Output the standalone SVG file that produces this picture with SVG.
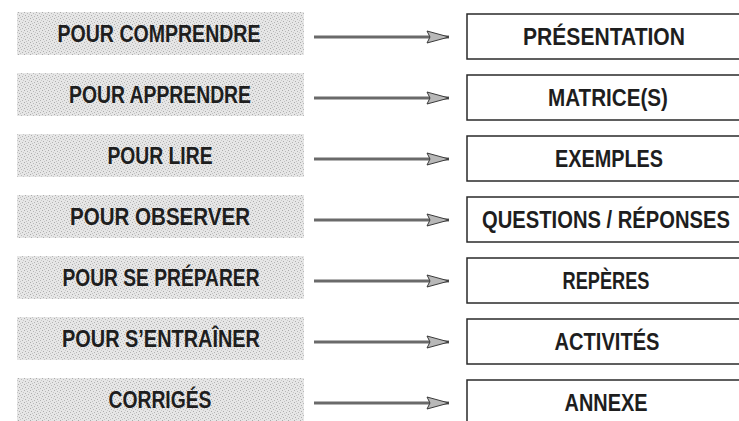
<svg xmlns="http://www.w3.org/2000/svg" width="739" height="421" viewBox="0 0 739 421">
<defs>
<pattern id="stip" width="6" height="6" patternUnits="userSpaceOnUse">
<rect width="6" height="6" fill="#e6e6e6"/>
<rect x="0" y="0" width="1" height="1" fill="#ababab"/>
<rect x="3" y="1" width="1" height="1" fill="#b8b8b8"/>
<rect x="1" y="3" width="1" height="1" fill="#adadad"/>
<rect x="4" y="4" width="1" height="1" fill="#b4b4b4"/>
<rect x="5" y="2" width="1" height="1" fill="#c8c8c8"/>
<rect x="2" y="5" width="1" height="1" fill="#c4c4c4"/>
</pattern>
<marker id="ah" markerWidth="24" markerHeight="14" refX="23" refY="7" orient="auto" markerUnits="userSpaceOnUse">
<polygon points="1,1 23,7 1,13 4,7" fill="#b8b8b8" stroke="#3a3a3a" stroke-width="1"/>
</marker>
</defs>
<style>
.g{fill:url(#stip)}
.b{fill:#fff;stroke:#2a2a2a;stroke-width:1.5}
.t{font-family:"Liberation Sans Narrow","Liberation Sans",Arial,sans-serif;font-weight:bold;font-size:23px;fill:#1e1e1e;text-anchor:middle}
.a{stroke:#6a6a6a;stroke-width:3;fill:none}
</style>

<g id="l1"><rect class="g" x="17" y="12" width="287" height="43"/><text class="t" x="159" y="42" textLength="203" lengthAdjust="spacingAndGlyphs">POUR COMPRENDRE</text></g>
<g id="l2"><rect class="g" x="17" y="73" width="287" height="43"/><text class="t" x="160" y="103" textLength="182" lengthAdjust="spacingAndGlyphs">POUR APPRENDRE</text></g>
<g id="l3"><rect class="g" x="17" y="134" width="287" height="43"/><text class="t" x="160" y="164" textLength="105" lengthAdjust="spacingAndGlyphs">POUR LIRE</text></g>
<g id="l4"><rect class="g" x="17" y="195" width="287" height="43"/><text class="t" x="160" y="225" textLength="180" lengthAdjust="spacingAndGlyphs">POUR OBSERVER</text></g>
<g id="l5"><rect class="g" x="17" y="256" width="287" height="43"/><text class="t" x="161" y="286" textLength="197" lengthAdjust="spacingAndGlyphs">POUR SE PRÉPARER</text></g>
<g id="l6"><rect class="g" x="17" y="317" width="287" height="43"/><text class="t" x="161" y="347" textLength="198" lengthAdjust="spacingAndGlyphs">POUR S’ENTRAÎNER</text></g>
<g id="l7"><rect class="g" x="17" y="378" width="287" height="43"/><text class="t" x="160" y="408" textLength="103" lengthAdjust="spacingAndGlyphs">CORRIGÉS</text></g>

<g id="connectors">
<line class="a" x1="314" y1="37" x2="449" y2="37" marker-end="url(#ah)"/>
<line class="a" x1="314" y1="98" x2="449" y2="98" marker-end="url(#ah)"/>
<line class="a" x1="314" y1="159" x2="449" y2="159" marker-end="url(#ah)"/>
<line class="a" x1="314" y1="220" x2="449" y2="220" marker-end="url(#ah)"/>
<line class="a" x1="314" y1="281" x2="449" y2="281" marker-end="url(#ah)"/>
<line class="a" x1="314" y1="342" x2="449" y2="342" marker-end="url(#ah)"/>
<line class="a" x1="314" y1="403" x2="449" y2="403" marker-end="url(#ah)"/>
</g>

<g id="r1"><rect class="b" x="467" y="14" width="280" height="45"/><text class="t" x="604" y="45" textLength="162" lengthAdjust="spacingAndGlyphs">PRÉSENTATION</text></g>
<g id="r2"><rect class="b" x="467" y="75" width="280" height="45"/><text class="t" x="608" y="106" textLength="120" lengthAdjust="spacingAndGlyphs">MATRICE(S)</text></g>
<g id="r3"><rect class="b" x="467" y="136" width="280" height="45"/><text class="t" x="609" y="167" textLength="108" lengthAdjust="spacingAndGlyphs">EXEMPLES</text></g>
<g id="r4"><rect class="b" x="467" y="197" width="280" height="45"/><text class="t" transform="translate(606,228) scale(0.878,1)" x="0" y="0">QUESTIONS / RÉPONSES</text></g>
<g id="r5"><rect class="b" x="467" y="258" width="280" height="45"/><text class="t" x="606" y="289" textLength="87" lengthAdjust="spacingAndGlyphs">REPÈRES</text></g>
<g id="r6"><rect class="b" x="467" y="319" width="280" height="45"/><text class="t" x="607" y="350" textLength="105" lengthAdjust="spacingAndGlyphs">ACTIVITÉS</text></g>
<g id="r7"><rect class="b" x="467" y="380" width="280" height="45"/><text class="t" x="606" y="411" textLength="83" lengthAdjust="spacingAndGlyphs">ANNEXE</text></g>
</svg>
